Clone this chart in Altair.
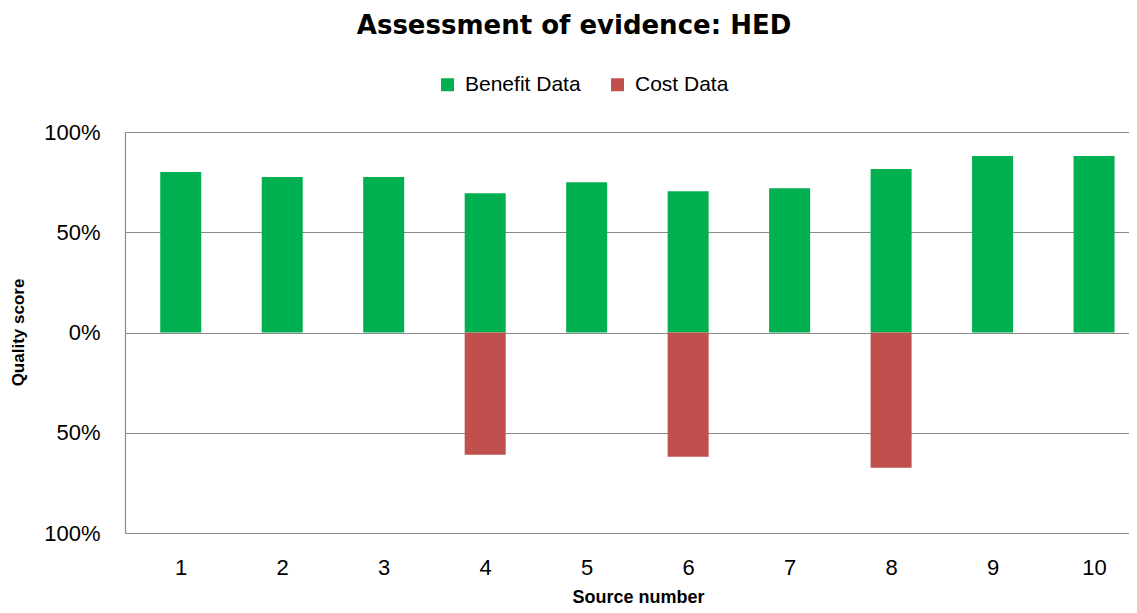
import altair as alt
import pandas as pd

sources = [1, 2, 3, 4, 5, 6, 7, 8, 9, 10]
benefit = [0.80, 0.775, 0.775, 0.695, 0.75, 0.705, 0.72, 0.815, 0.88, 0.88]
cost_sources = [4, 6, 8]
cost = [-0.61, -0.62, -0.675]
series_names = ["Benefit Data", "Cost Data"]
series_colors = ["#00B050", "#C0504D"]
y_ticks = [-1, -0.5, 0, 0.5, 1]

rows = [{"source": s, "value": v, "series": "Benefit Data"} for s, v in zip(sources, benefit)]
rows += [{"source": s, "value": v, "series": "Cost Data"} for s, v in zip(cost_sources, cost)]
df = pd.DataFrame(rows)

FONT = "Liberation Sans"

chart = alt.Chart(df).mark_bar(size=41).encode(
    x=alt.X(
        "source:Q",
        scale=alt.Scale(domain=[0.5, 10.295], nice=False, zero=False),
        axis=alt.Axis(
            values=sources, format="d", title="Source number", grid=False, ticks=False,
            domain=False, labelFontSize=22, labelPadding=24, labelColor="#000000",
            labelFont=FONT, titleFont=FONT, titleFontSize=18, titleFontWeight="bold",
            titleColor="#000000", titleX=513, titleY=64, titleBaseline="middle",
        ),
    ),
    y=alt.Y(
        "value:Q",
        scale=alt.Scale(domain=[-1, 1], nice=False),
        axis=alt.Axis(
            values=y_ticks, labelExpr="format(abs(datum.value), '.0%')",
            title="Quality score", grid=True, gridColor="#8a8a8a", gridWidth=1.2,
            ticks=False, domainColor="#8a8a8a", domainWidth=1.2,
            labelFontSize=22, labelPadding=25, labelColor="#000000", labelFont=FONT,
            titleFont=FONT, titleFontSize=17, titleFontWeight="bold", titleColor="#000000",
            titleX=-107, titleY=200, titleAngle=-90, titleBaseline="middle",
        ),
    ),
    color=alt.Color(
        "series:N",
        scale=alt.Scale(domain=series_names, range=series_colors),
        legend=alt.Legend(
            title=None, orient="none", legendX=312, legendY=-58, direction="horizontal",
            symbolType="square", symbolSize=169, symbolStrokeWidth=0, labelFontSize=21,
            labelFont=FONT, labelColor="#000000", labelOffset=7, columnPadding=26,
        ),
    ),
).properties(
    width=1004,
    height=401,
    padding={"left": 117, "top": 124, "right": 0, "bottom": 72},
    autosize="none",
    title=alt.TitleParams(
        "Assessment of evidence: HED", font="DejaVu Sans", fontSize=26, fontWeight="bold",
        anchor="middle", dx=-53, offset=35, color="#000000",
    ),
).configure_view(stroke=None)

chart.save("out.html", embed_options={"renderer": "svg", "actions": False})
